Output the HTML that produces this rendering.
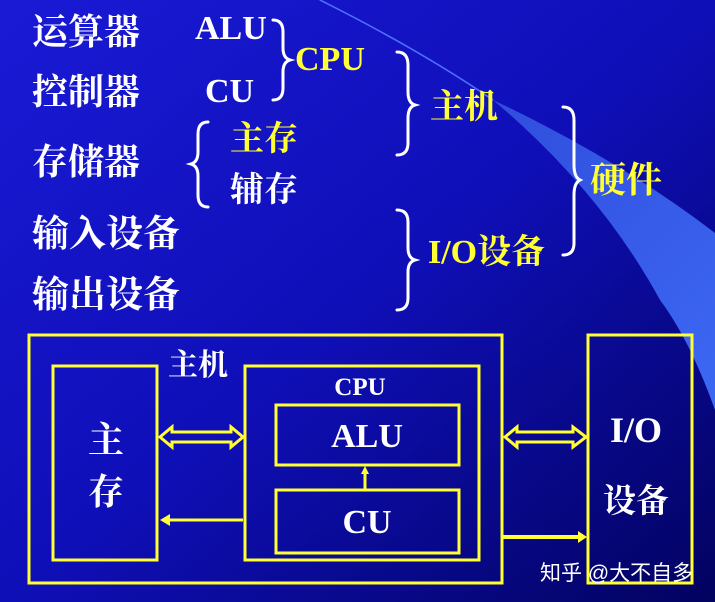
<!DOCTYPE html>
<html><head><meta charset="utf-8"><style>
html,body{margin:0;padding:0;width:715px;height:602px;overflow:hidden}
svg{display:block}
text{font-family:"Liberation Serif","Noto Serif CJK SC",serif;font-weight:bold}
.w{fill:#fff}.y{fill:#ffff33}
.c{font-size:36px}
</style></head><body>
<svg width="715" height="602" viewBox="0 0 715 602" xmlns="http://www.w3.org/2000/svg">
<defs>
<linearGradient id="bg" x1="0" y1="0" x2="1" y2="1">
<stop offset="0" stop-color="#1a1ad6"/><stop offset="0.5" stop-color="#0f0fb8"/><stop offset="1" stop-color="#020260"/>
</linearGradient>
<linearGradient id="sw" x1="0" y1="0" x2="1" y2="1">
<stop offset="0" stop-color="#2a40d0"/><stop offset="1" stop-color="#3c68f4"/>
</linearGradient>
</defs>
<rect width="715" height="602" fill="url(#bg)"/>
<path d="M320,0 Q420,50 493,100 Q620,160 715,233 L715,410 Q690,340 660,300 Q600,190 493,100 Q410,45 318,0 Z" fill="url(#sw)"/>
<path d="M320,0 Q420,50 493,100" stroke="#5070ff" stroke-width="1.5" fill="none"/>

<g class="c">
<text x="32" y="44" class="w" font-size="36">运算器</text>
<text x="195" y="39" class="w" font-size="34">ALU</text>
<text x="32" y="104" class="w">控制器</text>
<text x="205" y="102" class="w" font-size="34">CU</text>
<text x="295" y="70" class="y" font-size="34">CPU</text>
<text x="32" y="174" class="w">存储器</text>
<text x="230" y="150" class="y" font-size="34">主存</text>
<text x="230" y="201" class="w" font-size="34">辅存</text>
<text x="32" y="246" class="w" font-size="37">输入设备</text>
<text x="32" y="307" class="w" font-size="37">输出设备</text>
<text x="430" y="118" class="y" font-size="34">主机</text>
<text x="428" y="263" class="y" font-size="34">I/O设备</text>
<text x="590" y="192" class="y" font-size="36">硬件</text>
</g>
<g stroke="#fff" stroke-width="3" fill="none" stroke-linecap="round">
<path d="M273,20 Q283,20 283,32 L283,48 Q283,58 290,60 Q283,62 283,72 L283,88 Q283,100 273,100"/>
<path d="M397,52 Q408,52 408,65 L408,92 Q408,103 415,105 Q408,107 408,118 L408,143 Q408,155 397,155"/>
<path d="M208,122 Q198,122 198,134 L198,152 Q198,162 191,164 Q198,166 198,176 L198,195 Q198,207 208,207"/>
<path d="M397,210 Q408,210 408,222 L408,248 Q408,258 415,260 Q408,262 408,272 L408,298 Q408,310 397,310"/>
<path d="M563,107 Q574,107 574,120 L574,165 Q574,177 580,180 Q574,183 574,195 L574,243 Q574,255 563,255"/>
</g>

<g stroke="#ffff33" stroke-width="3" fill="none">
<rect x="29" y="335" width="473" height="248"/>
<rect x="588" y="335" width="104" height="248"/>
<rect x="53" y="366" width="104" height="194"/>
<rect x="245" y="366" width="234" height="194"/>
<rect x="276" y="405" width="183" height="60"/>
<rect x="276" y="490" width="183" height="63"/>
<path d="M160,437 L172,427 L172,432 L231,432 L231,427 L243,437 L231,447 L231,442 L172,442 L172,447 Z"/>
<path d="M505,437 L517,427 L517,432 L573,432 L573,427 L586,437 L573,447 L573,442 L517,442 L517,447 Z"/>
<path d="M243,520 L165,520"/>
<path d="M503,537 L580,537" stroke-width="4"/>
<path d="M365,490 L365,470"/>
</g>
<path d="M160,520 L170,514 L170,526 Z" fill="#ffff33"/>
<path d="M587,537 L578,531 L578,543 Z" fill="#ffff33"/>
<path d="M365,466 L361,474 L369,474 Z" fill="#ffff33"/>

<g class="w">
<text x="168" y="375" font-size="30">主机</text>
<text x="360" y="395" font-size="25" text-anchor="middle">CPU</text>
<text x="367" y="447" font-size="34" text-anchor="middle">ALU</text>
<text x="367" y="533" font-size="34" text-anchor="middle">CU</text>
<text x="88" y="452" font-size="36">主</text>
<text x="88" y="504" font-size="36">存</text>
<text x="636" y="442" font-size="36" text-anchor="middle">I/O</text>
<text x="636" y="512" font-size="33" text-anchor="middle">设备</text>
<text x="540" y="580" font-size="21" font-weight="normal" style="font-family:'Liberation Sans','Noto Sans CJK SC',sans-serif;font-weight:normal">知乎 @大不自多</text>
</g>
</svg>
</body></html>
